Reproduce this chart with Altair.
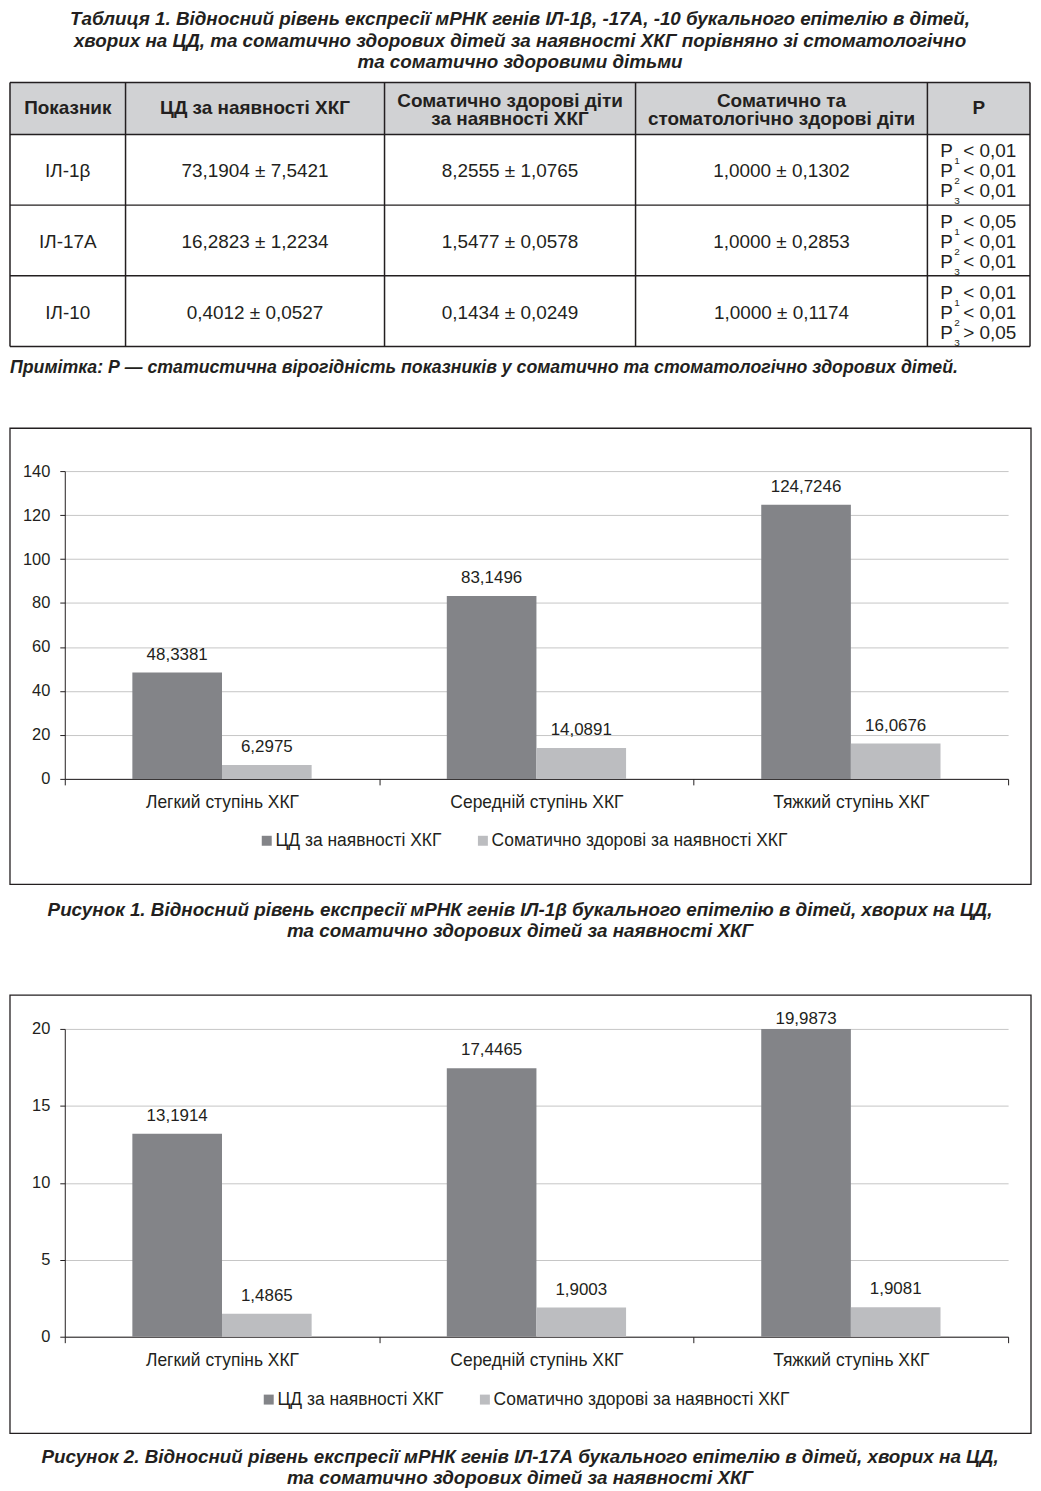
import altair as alt
import pandas as pd

# ---------------- data ----------------
TITLE_LINES = [
    "Таблиця 1. Відносний рівень експресії мРНК генів ІЛ-1β, -17А, -10 букального епітелію в дітей,",
    "хворих на ЦД, та соматично здорових дітей за наявності ХКГ порівняно зі стоматологічно",
    "та соматично здоровими дітьми",
]
HEADERS = [
    ["Показник"],
    ["ЦД за наявності ХКГ"],
    ["Соматично здорові діти", "за наявності ХКГ"],
    ["Соматично та", "стоматологічно здорові діти"],
    ["Р"],
]
ROW_LABELS = ["ІЛ-1β", "ІЛ-17А", "ІЛ-10"]
CD_VALUES = ["73,1904 ± 7,5421", "16,2823 ± 1,2234", "0,4012 ± 0,0527"]
SOM_VALUES = ["8,2555 ± 1,0765", "1,5477 ± 0,0578", "0,1434 ± 0,0249"]
HEALTHY_VALUES = ["1,0000 ± 0,1302", "1,0000 ± 0,2853", "1,0000 ± 0,1174"]
P_SIGNS = [
    ["< 0,01", "< 0,01", "< 0,01"],
    ["< 0,05", "< 0,01", "< 0,01"],
    ["< 0,01", "< 0,01", "> 0,05"],
]
P_INDEX = ["1", "2", "3"]
NOTE = "Примітка: Р — статистична вірогідність показників у соматично та стоматологічно здорових дітей."

CATEGORIES = ["Легкий ступінь ХКГ", "Середній ступінь ХКГ", "Тяжкий ступінь ХКГ"]
SERIES = ["ЦД за наявності ХКГ", "Соматично здорові за наявності ХКГ"]
IL1B_CD = [48.3381, 83.1496, 124.7246]
IL1B_SOM = [6.2975, 14.0891, 16.0676]
IL17_CD = [13.1914, 17.4465, 19.9873]
IL17_SOM = [1.4865, 1.9003, 1.9081]

CAPTION_1 = [
    "Рисунок 1. Відносний рівень експресії мРНК генів ІЛ-1β букального епітелію в дітей, хворих на ЦД,",
    "та соматично здорових дітей за наявності ХКГ",
]
CAPTION_2 = [
    "Рисунок 2. Відносний рівень експресії мРНК генів ІЛ-17А букального епітелію в дітей, хворих на ЦД,",
    "та соматично здорових дітей за наявності ХКГ",
]

# ---------------- style / layout ----------------
# All blocks share one horizontal origin: the left edge of the bar plots.
FONT = "Liberation Sans"
INK = "#231f20"
DARK = "#838488"
LIGHT = "#bcbdc0"
GRID = "#c6c6c6"
HEAD_FILL = "#d1d2d4"
BLOCK_W = 966
CENTER_X = 457
COL_EDGES = [-55, 61, 321, 573, 866, 969]
ROW_EDGES = [0, 52, 123, 194, 265]
COL_CENTERS = [(COL_EDGES[i] + COL_EDGES[i + 1]) / 2 for i in range(5)]
ROW_CENTERS = [89, 160, 231]
CAP_SIZE = 18.9
PLOT_H = 309


def txt(s, x, y, size, weight="normal", style="normal", align="center"):
    return alt.Chart(pd.DataFrame({"t": [s]})).mark_text(
        font=FONT, fontSize=size, fontWeight=weight, fontStyle=style,
        color=INK, align=align, baseline="middle"
    ).encode(x=alt.value(x), y=alt.value(y), text="t:N")


def rule(x, x2, y, y2, width=1.5, color=INK):
    return alt.Chart(pd.DataFrame({"a": [0]})).mark_rule(
        color=color, strokeWidth=width
    ).encode(x=alt.value(x), x2=alt.value(x2), y=alt.value(y), y2=alt.value(y2))


def text_block(lines, ys, height, size=CAP_SIZE):
    layers = [txt(s, CENTER_X, y, size, "bold", "italic") for s, y in zip(lines, ys)]
    return alt.layer(*layers).properties(width=BLOCK_W, height=height)


# ---------------- title block ----------------
title_block = text_block(TITLE_LINES, [10, 32, 53], 71)

# ---------------- table block ----------------
tl = []
tl.append(
    alt.Chart(pd.DataFrame({"a": [0]})).mark_rect(color=HEAD_FILL).encode(
        x=alt.value(COL_EDGES[0]), x2=alt.value(COL_EDGES[-1]),
        y=alt.value(ROW_EDGES[0]), y2=alt.value(ROW_EDGES[1]))
)
for ry in ROW_EDGES:
    tl.append(rule(COL_EDGES[0], COL_EDGES[-1], ry, ry))
for cx in COL_EDGES:
    tl.append(rule(cx, cx, ROW_EDGES[0], ROW_EDGES[-1]))
for ci, hdr in enumerate(HEADERS):
    if len(hdr) == 1:
        tl.append(txt(hdr[0], COL_CENTERS[ci], 26, 19, "bold"))
    else:
        tl.append(txt(hdr[0], COL_CENTERS[ci], 18, 19, "bold"))
        tl.append(txt(hdr[1], COL_CENTERS[ci], 37, 19, "bold"))
for ri in range(3):
    cy = ROW_CENTERS[ri]
    tl.append(txt(ROW_LABELS[ri], COL_CENTERS[0], cy, 19))
    tl.append(txt(CD_VALUES[ri], COL_CENTERS[1], cy, 19))
    tl.append(txt(SOM_VALUES[ri], COL_CENTERS[2], cy, 19))
    tl.append(txt(HEALTHY_VALUES[ri], COL_CENTERS[3], cy, 19))
    for k in range(3):
        ly = cy - 20 + 20 * k
        tl.append(txt("P", 879, ly, 19, align="left"))
        tl.append(txt(P_INDEX[k], 893, ly + 10, 10, align="left"))
        tl.append(txt(P_SIGNS[ri][k], 902, ly, 19, align="left"))
tl.append(txt(NOTE, -55, 287, 17.8, "bold", "italic", align="left"))
table_block = alt.layer(*tl).properties(width=BLOCK_W, height=344)


# ---------------- bar charts ----------------
def bar_chart(cd, som, ymax, ystep, frame, legend_xy, pad_outer, clamp=None):
    df = pd.DataFrame({
        "cat": CATEGORIES * 2,
        "series": [SERIES[0]] * 3 + [SERIES[1]] * 3,
        "value": cd + som,
    })
    df["label"] = [f"{v:.4f}".replace(".", ",") for v in df["value"]]
    df["label_y"] = df["value"] if clamp is None else df["value"].clip(upper=clamp)

    x = alt.X("cat:N", sort=CATEGORIES,
              scale=alt.Scale(paddingInner=0, paddingOuter=0),
              axis=alt.Axis(title=None, labelAngle=0, tickBand="extent", ticks=True,
                            tickSize=6, tickColor=INK, tickWidth=1, domainColor=INK,
                            domainWidth=1, labelFont=FONT, labelFontSize=17.5,
                            labelColor=INK, labelPadding=9, grid=False))
    xo = alt.XOffset("series:N", sort=SERIES,
                     scale=alt.Scale(paddingInner=0, paddingOuter=pad_outer))
    yaxis = alt.Axis(values=list(range(0, ymax + 1, ystep)), title=None, grid=True,
                     gridColor=GRID, gridWidth=1, domainColor=INK, domainWidth=1,
                     tickColor=INK, tickSize=5, tickWidth=1, labelFont=FONT,
                     labelFontSize=16.5, labelColor=INK, labelPadding=10)
    yscale = alt.Scale(domain=[0, ymax], nice=False)

    bars = alt.Chart(df).mark_bar().encode(
        x=x, xOffset=xo,
        y=alt.Y("value:Q", scale=yscale, axis=yaxis),
        color=alt.Color("series:N", sort=SERIES,
                        scale=alt.Scale(domain=SERIES, range=[DARK, LIGHT]),
                        legend=alt.Legend(orient="none", legendX=legend_xy[0],
                                          legendY=legend_xy[1], direction="horizontal",
                                          columns=2, title=None, symbolType="square",
                                          symbolSize=100, symbolStrokeWidth=0,
                                          labelFont=FONT, labelFontSize=17.5,
                                          labelColor=INK, labelLimit=500,
                                          labelOffset=0, columnPadding=32, padding=0)),
    )
    labels = alt.Chart(df).mark_text(
        font=FONT, fontSize=17, color=INK, baseline="alphabetic", dy=-13
    ).encode(
        x=x, xOffset=xo,
        y=alt.Y("label_y:Q", scale=yscale, axis=yaxis),
        text="label:N",
    )
    box = alt.Chart(pd.DataFrame({"a": [0]})).mark_rect(
        fillOpacity=0, stroke=INK, strokeWidth=1.3
    ).encode(x=alt.value(frame[0]), x2=alt.value(frame[1]),
             y=alt.value(frame[2]), y2=alt.value(frame[3]))
    return alt.layer(box, bars, labels).properties(width=947, height=PLOT_H)


chart1 = bar_chart(IL1B_CD, IL1B_SOM, 140, 20, (-55, 970, -43, 415),
                   (194, 362), 0.754)
caption1 = text_block(CAPTION_1, [22.5, 43.5], 105)
chart2 = bar_chart(IL17_CD, IL17_SOM, 20, 5, (-55, 970, -34, 406),
                   (196, 363), 0.754, clamp=19.5)
caption2 = text_block(CAPTION_2, [21, 42], 46)

chart = alt.vconcat(
    title_block, table_block, chart1, caption1, chart2, caption2, spacing=0
).resolve_scale(color="independent").properties(
    padding={"top": -3, "left": 0, "right": 0, "bottom": 0}, background="white"
).configure_view(stroke="transparent")

chart.save("out.html", embed_options={"renderer": "svg", "actions": False})
